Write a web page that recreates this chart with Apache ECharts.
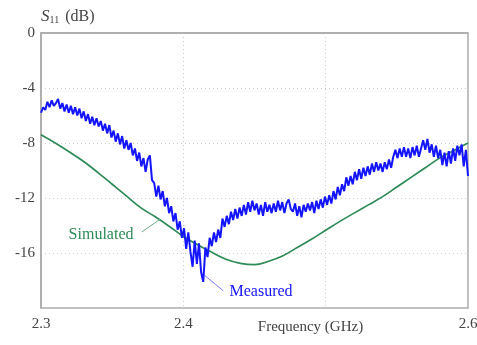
<!DOCTYPE html>
<html>
<head>
<meta charset="utf-8">
<script src="https://cdn.jsdelivr.net/npm/echarts@6/dist/echarts.min.js"></script>
<style>html,body{margin:0;padding:0;background:#fff;}#c{width:477px;height:345px;}</style>
</head>
<body>
<div id="c"></div>
<script>
// ---- data ----
const xTicks = [2.3, 2.4, 2.5, 2.6];
const yTicks = [0, -4, -8, -12, -16, -20];
const simFreq = [2.30,2.31,2.32,2.33,2.34,2.35,2.36,2.37,2.38,2.39,2.40,2.41,2.42,2.43,2.44,2.45,2.46,2.47,2.48,2.49,2.50,2.51,2.52,2.53,2.54,2.55,2.56,2.57,2.58,2.59,2.60];
const simDb = [-7.4,-8.0,-8.65,-9.35,-10.15,-11.0,-11.85,-12.7,-13.35,-14.05,-14.8,-15.4,-15.95,-16.45,-16.75,-16.85,-16.6,-16.2,-15.6,-15.0,-14.35,-13.7,-13.1,-12.5,-11.9,-11.2,-10.5,-9.8,-9.1,-8.55,-8.0];
const measStart = 2.3, measStep = 0.0015;
const measDb = [
-5.8,-5.4,-5.6,-5.0,-5.4,-4.9,-5.3,-5.1,-4.8,-5.5,-5.1,-5.7,-5.2,-5.8,-5.3,-5.9,-5.4,-6.0,-5.5,-6.2,-5.7,
-6.4,-5.9,-6.6,-6.1,-6.7,-6.2,-6.8,-6.4,-7.1,-6.6,-7.3,-6.7,-7.6,-7.1,-7.9,-7.3,-8.1,-7.5,-8.4,-7.8,
-8.5,-8.0,-8.9,-8.4,-9.3,-8.7,-9.7,-9.1,-10.1,-9.2,-8.9,-10.7,-10.9,-11.9,-11.1,-12.1,-11.5,-12.6,-12.0,-13.1,
-12.6,-13.7,-13.1,-14.3,-13.7,-14.9,-14.2,-15.7,-14.5,-15.9,-17.0,-15.1,-16.8,-15.3,-17.4,-18.1,-15.6,-16.3,-14.9,-15.5,
-14.5,-15.2,-14.3,-14.9,-13.5,-14.1,-13.3,-13.9,-13.0,-13.6,-12.8,-13.5,-12.7,-13.3,-12.5,-13.2,-12.3,-13.0,-12.2,-12.9,
-12.4,-13.2,-12.5,-13.3,-12.3,-13.0,-12.5,-13.1,-12.4,-13.0,-12.2,-12.9,-12.3,-13.1,-12.4,-12.1,-12.8,-13.0,-12.4,-13.3,
-12.6,-13.4,-12.5,-13.0,-12.4,-12.9,-12.3,-13.1,-12.2,-12.8,-12.1,-12.7,-11.9,-12.5,-11.8,-12.4,-11.5,-12.1,-11.2,-11.8,
-11.0,-11.5,-10.5,-11.1,-10.4,-11.0,-10.1,-10.7,-9.9,-10.6,-9.8,-10.4,-9.7,-10.3,-9.5,-10.1,-9.4,-10.0,-9.5,-10.1,
-9.4,-9.9,-9.2,-9.8,-9.0,-8.5,-9.1,-8.4,-9.0,-8.3,-9.0,-8.4,-9.1,-8.3,-8.9,-8.2,-9.0,-8.4,-7.8,-8.5,
-7.7,-8.7,-8.1,-9.0,-8.2,-9.1,-8.5,-9.6,-8.7,-9.7,-8.6,-9.5,-8.4,-9.3,-8.2,-8.9,-8.1,-9.7,-8.5,-10.4
];
const simLabelPos = [2.3422, -14.7];
const measLabelPos = [2.4546, -18.85];
const simLeader = [[2.3708, -14.47], [2.3836, -13.55]];
const measLeader = [[2.4152, -17.65], [2.4281, -18.75]];

const simData = simFreq.map((f, i) => [f, simDb[i]]);
const measData = measDb.map((v, i) => [measStart + i * measStep, v]);

const FONT = "'Liberation Serif','Times New Roman',serif";
const TXT = '#444';
const chart = echarts.init(document.getElementById('c'), null, {renderer: 'canvas'});
chart.setOption({
  animation: false,
  backgroundColor: '#fff',
  grid: {left: 41, top: 33, right: 9, bottom: 37, containLabel: false, outerBoundsMode: 'none',
    show: true, borderColor: '#aaa', borderWidth: 1.5, backgroundColor: 'transparent'},
  xAxis: {
    type: 'value', min: 2.3, max: 2.6, interval: 0.1,
    name: 'Frequency (GHz)', nameLocation: 'middle', nameGap: 12, nameMoveOverlap: false,
    nameTextStyle: {fontFamily: FONT, fontSize: 15, color: TXT, padding: [0, 0, 0, 112]},
    axisLine: {show: true, lineStyle: {color: '#aaa', width: 1.5}},
    axisTick: {show: false},
    axisLabel: {fontFamily: FONT, fontSize: 15, color: TXT, margin: 9,
      formatter: v => (Math.abs(v - 2.5) < 1e-6 ? '' : v.toFixed(1))},
    splitLine: {show: true, lineStyle: {color: '#ccc', type: [1, 3], width: 1}}
  },
  yAxis: {
    type: 'value', min: -20, max: 0, interval: 4,
    name: '{s|S}{sub|11}{n| (dB)}', nameLocation: 'end', nameGap: 8, nameMoveOverlap: false,
    nameTextStyle: {align: 'left', padding: [0, 0, 0, 0],
      rich: {
        s: {fontFamily: FONT, fontSize: 17, fontStyle: 'italic', color: TXT},
        sub: {fontFamily: FONT, fontSize: 10, color: TXT, verticalAlign: 'bottom', padding: [7, 2, 0, 0]},
        n: {fontFamily: FONT, fontSize: 16, color: TXT}
      }},
    axisLine: {show: true, lineStyle: {color: '#aaa', width: 1.5}},
    axisTick: {show: false},
    axisLabel: {fontFamily: FONT, fontSize: 15, color: TXT, margin: 6,
      formatter: v => (v === -20 ? '' : String(v))},
    splitLine: {show: true, lineStyle: {color: '#ccc', type: [1, 3], width: 1}}
  },
  series: [
    {
      name: 'Simulated', type: 'line', data: simData, showSymbol: false, smooth: 0.4,
      lineStyle: {color: '#2e8b57', width: 1.7}, itemStyle: {color: '#2e8b57'},
      markLine: {silent: true, symbol: ['none', 'none'], label: {show: false},
        lineStyle: {color: '#6fae86', width: 1, type: 'solid'},
        data: [[{coord: simLeader[0]}, {coord: simLeader[1]}]]},
      markPoint: {silent: true, symbol: 'circle', symbolSize: 1, itemStyle: {color: 'rgba(0,0,0,0)'},
        label: {show: true, position: 'inside', formatter: 'Simulated', fontFamily: FONT, fontSize: 16, color: '#2e8b57'},
        data: [{coord: simLabelPos}]}
    },
    {
      name: 'Measured', type: 'line', data: measData, showSymbol: false,
      lineStyle: {color: '#1414ff', width: 2}, itemStyle: {color: '#1414ff'},
      markLine: {silent: true, symbol: ['none', 'none'], label: {show: false},
        lineStyle: {color: '#8080ff', width: 1, type: 'solid'},
        data: [[{coord: measLeader[0]}, {coord: measLeader[1]}]]},
      markPoint: {silent: true, symbol: 'circle', symbolSize: 1, itemStyle: {color: 'rgba(0,0,0,0)'},
        label: {show: true, position: 'inside', formatter: 'Measured', fontFamily: FONT, fontSize: 16, color: '#1414ff'},
        data: [{coord: measLabelPos}]}
    }
  ]
});
</script>
</body>
</html>
